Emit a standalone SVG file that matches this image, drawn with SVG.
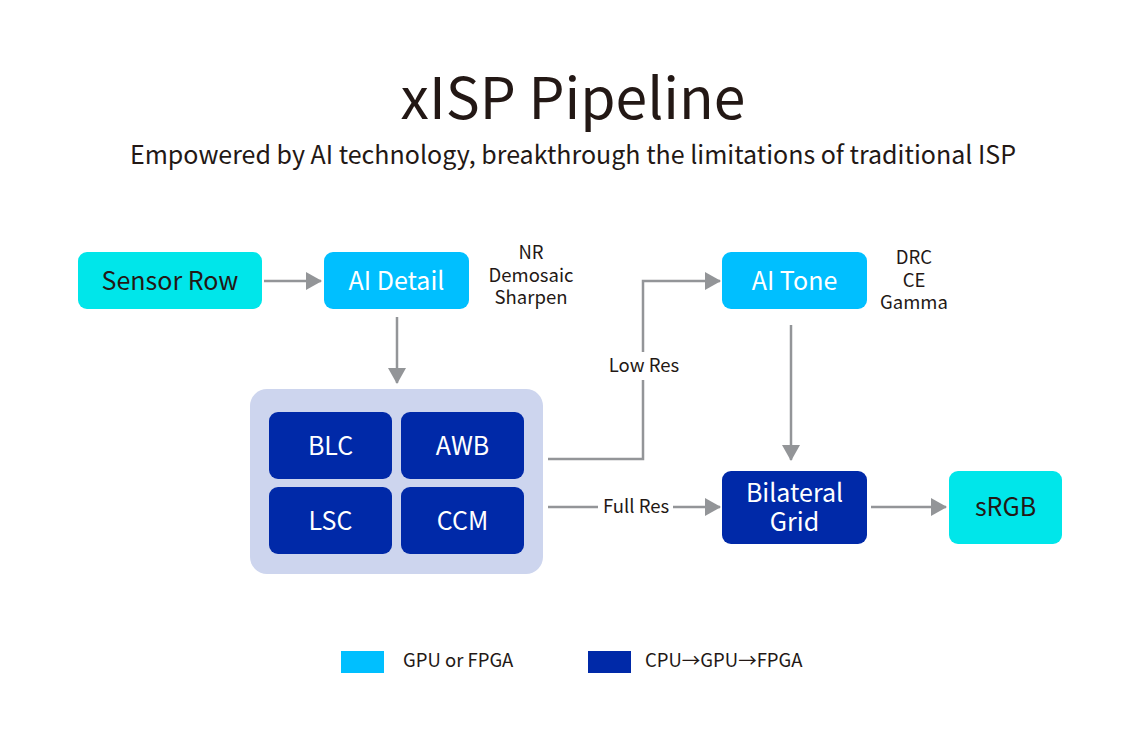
<svg xmlns="http://www.w3.org/2000/svg" width="1146" height="750" viewBox="0 0 1146 750">
<style>
text{font-family:"Noto Sans CJK SC","Noto Sans",sans-serif;}
.dark{fill:#231815;}
.w{fill:#ffffff;}
.node{font-size:25px;text-anchor:middle;}
.ann{font-size:18.5px;text-anchor:middle;fill:#231815;}
.lbl{font-size:18.5px;text-anchor:middle;fill:#231815;}
.cyan{fill:#00e6ea;}
.lblue{fill:#00bfff;}
.dblue{fill:#0029a8;}
.conn{fill:none;stroke:#939598;stroke-width:2.5;}
</style>
<defs>
<marker id="ah" markerUnits="userSpaceOnUse" markerWidth="16" markerHeight="18" refX="15" refY="9" orient="auto">
<path d="M0,0 L16,9 L0,18 z" fill="#939598"/>
</marker>
</defs>
<rect width="1146" height="750" fill="#ffffff"/>
<text x="573" y="119" font-size="57" text-anchor="middle" class="dark">xISP Pipeline</text>
<text x="573" y="164" font-size="25" text-anchor="middle" class="dark">Empowered by AI technology, breakthrough the limitations of traditional ISP</text>

<g id="connectors">
<line class="conn" x1="264" y1="281" x2="321" y2="281" marker-end="url(#ah)"/>
<line class="conn" x1="397" y1="317" x2="397" y2="383" marker-end="url(#ah)"/>
<polyline class="conn" points="548,459 643,459 643,380"/>
<polyline class="conn" points="643,352 643,281 720,281" marker-end="url(#ah)"/>
<text class="lbl" x="644" y="372">Low Res</text>
<line class="conn" x1="548" y1="507" x2="598" y2="507"/>
<line class="conn" x1="673" y1="507" x2="720" y2="507" marker-end="url(#ah)"/>
<text class="lbl" x="636" y="513">Full Res</text>
<line class="conn" x1="791" y1="325" x2="791" y2="460" marker-end="url(#ah)"/>
<line class="conn" x1="871" y1="507" x2="946" y2="507" marker-end="url(#ah)"/>
</g>

<g id="sensor-row">
<rect class="cyan" x="78" y="252" width="184" height="57" rx="9"/>
<text class="node dark" x="170" y="290">Sensor Row</text>
</g>
<g id="ai-detail">
<rect class="lblue" x="324" y="252" width="145" height="57" rx="9"/>
<text class="node w" x="396.5" y="290">AI Detail</text>
</g>
<g id="ai-detail-notes">
<text class="ann"><tspan x="531" y="259">NR</tspan><tspan x="531" y="282">Demosaic</tspan><tspan x="531" y="304">Sharpen</tspan></text>
</g>
<g id="ai-tone">
<rect class="lblue" x="722" y="252" width="145" height="57" rx="9"/>
<text class="node w" x="794.5" y="290">AI Tone</text>
</g>
<g id="ai-tone-notes">
<text class="ann"><tspan x="914" y="264">DRC</tspan><tspan x="914" y="287">CE</tspan><tspan x="914" y="309">Gamma</tspan></text>
</g>
<g id="isp-block">
<rect x="250" y="389" width="293" height="185" rx="17" fill="#cdd5ee"/>
<g id="blc">
<rect class="dblue" x="269" y="412" width="123" height="67" rx="9"/>
<text class="node w" x="330.5" y="455">BLC</text>
</g>
<g id="awb">
<rect class="dblue" x="401" y="412" width="123" height="67" rx="9"/>
<text class="node w" x="462.5" y="455">AWB</text>
</g>
<g id="lsc">
<rect class="dblue" x="269" y="487" width="123" height="67" rx="9"/>
<text class="node w" x="330.5" y="530">LSC</text>
</g>
<g id="ccm">
<rect class="dblue" x="401" y="487" width="123" height="67" rx="9"/>
<text class="node w" x="462.5" y="530">CCM</text>
</g>
</g>
<g id="bilateral-grid">
<rect class="dblue" x="722" y="471" width="145" height="73" rx="9"/>
<text class="node w"><tspan x="794.5" y="502">Bilateral</tspan><tspan x="794.5" y="531">Grid</tspan></text>
</g>
<g id="srgb">
<rect class="cyan" x="949" y="471" width="113" height="73" rx="9"/>
<text class="node dark" x="1005.5" y="516">sRGB</text>
</g>
<g id="legend">
<rect class="lblue" x="341" y="651" width="43" height="22"/>
<text x="403" y="667" font-size="18.5" class="dark">GPU or FPGA</text>
<rect class="dblue" x="588" y="651" width="43" height="22"/>
<text x="645" y="667" font-size="18.5" class="dark">CPU→GPU→FPGA</text>
</g>
</svg>
